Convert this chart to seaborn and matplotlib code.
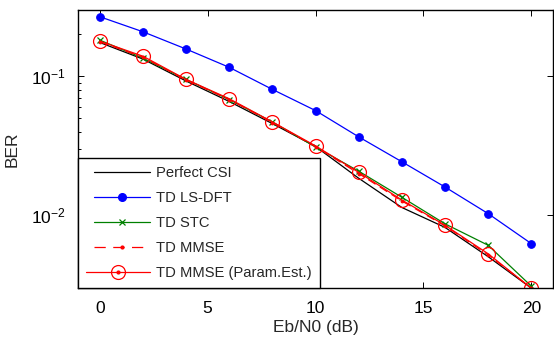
import matplotlib
matplotlib.use("Agg")
import matplotlib.pyplot as plt
import seaborn as sns
import numpy as np
import pandas as pd
from matplotlib.lines import Line2D
from matplotlib.legend_handler import HandlerTuple, HandlerLine2D

ebn0 = [0, 2, 4, 6, 8, 10, 12, 14, 16, 18, 20]
perfect_csi = [0.175, 0.133, 0.0925, 0.0659, 0.0457, 0.0313, 0.0185, 0.0114, 0.0082, 0.00505, 0.0030]
td_ls_dft = [0.268, 0.209, 0.157, 0.116, 0.0805, 0.0567, 0.0367, 0.0243, 0.0160, 0.0103, 0.00627]
td_stc = [0.182, 0.135, 0.095, 0.068, 0.047, 0.031, 0.0208, 0.0135, 0.0087, 0.0061, 0.0031]
td_mmse = [0.177, 0.137, 0.094, 0.068, 0.0465, 0.0312, 0.0200, 0.0127, 0.0084, 0.0052, 0.0030]
td_mmse_pe = [0.179, 0.1395, 0.095, 0.069, 0.047, 0.0316, 0.0204, 0.0129, 0.0085, 0.0053, 0.0030]
labels = ["Perfect CSI", "TD LS-DFT", "TD STC", "TD MMSE", "TD MMSE (Param.Est.)"]

sns.set_style("ticks")
plt.rcParams['font.family'] = ['Liberation Sans', 'DejaVu Sans']

fig = plt.figure(figsize=(5.54, 3.41), dpi=100)
ax = fig.add_axes([0.141, 0.155, 0.857, 0.816])

lw = 0.9
sns.lineplot(x=ebn0, y=perfect_csi, ax=ax, color='black', lw=lw)
sns.lineplot(x=ebn0, y=td_ls_dft, ax=ax, color='#0000ff', lw=lw, marker='o', markersize=5.5,
             markeredgecolor='#0000ff')
sns.lineplot(x=ebn0, y=td_stc, ax=ax, color='#008000', lw=lw, marker='x', markersize=5,
             markeredgecolor='#008000', markeredgewidth=0.9)
sns.lineplot(x=ebn0, y=td_mmse, ax=ax, color='red', lw=lw, linestyle=(0, (7, 4)), marker='.',
             markersize=4, markeredgecolor='red')
sns.lineplot(x=ebn0, y=td_mmse_pe, ax=ax, color='red', lw=lw, marker='o', markersize=10,
             markerfacecolor='none', markeredgecolor='red', markeredgewidth=0.9)

ax.set_yscale('log')
ax.set_xlim(-1, 21)
ax.set_ylim(0.003, 0.3)
ax.set_xticks([0, 5, 10, 15, 20])
ax.tick_params(axis='both', which='both', direction='in', top=True, right=True, labelsize=12.5,
               width=0.7, colors='black')
ax.tick_params(axis='both', which='major', length=4)
ax.tick_params(axis='x', which='major', pad=9)
ax.tick_params(axis='y', which='major', pad=9)
ax.tick_params(axis='y', which='minor', length=2.5, right=False)
for s in ax.spines.values():
    s.set_linewidth(1.0)
    s.set_color('black')
ax.set_xlabel("Eb/N0 (dB)", fontsize=12.5, labelpad=3)
ax.set_ylabel("BER", fontsize=12.5, labelpad=8)

h_black = Line2D([], [], color='black', lw=lw)
h_blue = Line2D([], [], color='#0000ff', lw=lw, marker='o', markersize=5.5)
h_green = Line2D([], [], color='#008000', lw=lw, marker='x', markersize=5, markeredgewidth=0.9)
h_red = Line2D([], [], color='red', lw=lw, linestyle=(0, (9, 6)), marker='.', markersize=4)
h_circ = Line2D([], [], color='red', lw=lw, marker='o', markersize=10, markerfacecolor='none',
                markeredgewidth=0.9)
h_dot = Line2D([], [], color='red', lw=0, marker='.', markersize=4)
hl = HandlerLine2D(xpad=0.5)
leg = ax.legend([h_black, h_blue, h_green, h_red, (h_circ, h_dot)], labels,
                handler_map={Line2D: hl, tuple: HandlerTuple(ndivide=1, pad=0)},
                loc='lower left', bbox_to_anchor=(0, 0), fontsize=10.6, frameon=True,
                fancybox=False, edgecolor='black', framealpha=1, handlelength=4.3,
                labelspacing=0.75, borderpad=0.55, handletextpad=0.45, borderaxespad=0)
leg.get_frame().set_linewidth(1.0)

fig.savefig("out.png", dpi=100)
